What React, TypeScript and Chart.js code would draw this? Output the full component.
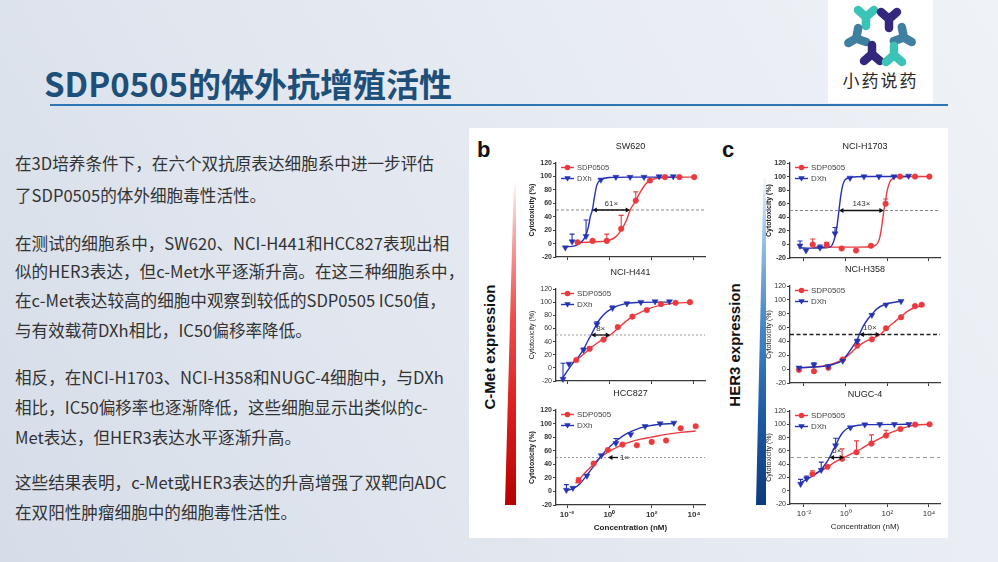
import React, { useEffect, useRef } from "react";
import { Chart, registerables } from "chart.js";

Chart.register(...registerables);

const RED = "#eb3a3f";
const BLUE = "#2432b3";
const AXIS = "#3a3a3a";
const SANS = "'Liberation Sans', Arial, Helvetica, sans-serif";
const CJK = "'Noto Sans CJK SC', 'Noto Sans', sans-serif";

// Concentrations are log10(nM); responses are % cytotoxicity.
// err = upper error bar length (0 = none). fit = fitted dose-response curve.

// ---- SW620 ----
const sw620DxhX = [-2.08, -1.76, -1.1, -0.4, 0.31, 0.98, 1.64, 2.35, 3.02];
const sw620DxhY = [-6, 3, 11, 95, 99, 99, 99, 100, 100];
const sw620DxhErr = [0, 11, 24, 0, 0, 0, 0, 0, 0];
const sw620DxhFitX = [-2.1, -1.6, -1.37, -1.14, -0.98, -0.9, -0.8, -0.71, -0.59, -0.4, 0.04, 1.0, 3.02];
const sw620DxhFitY = [-5, -3, 1, 10, 26, 40, 50, 68, 87, 95, 98.5, 99, 99];
const sw620SdpX = [-1.5, -0.79, -0.12, 0.56, 1.25, 1.92, 2.63, 3.31, 4.01];
const sw620SdpY = [2, 4, 4, 22, 64, 94, 99, 99, 99];
const sw620SdpErr = [0, 0, 10, 20, 13, 0, 0, 0, 0];
const sw620SdpFitX = [-1.55, -1.0, -0.4, 0.0, 0.3, 0.56, 0.8, 0.985, 1.25, 1.45, 1.7, 1.92, 2.3, 2.7, 4.01];
const sw620SdpFitY = [1.5, 2, 3, 5, 10, 20, 34, 50, 64, 76, 88, 94, 97.5, 98.5, 99];
const sw620Ic50 = [-0.8, 0.985];

// ---- NCI-H441 ----
const h441DxhX = [-2.19, -1.91, -1.22, -0.59, 0.15, 0.83, 1.49, 2.16, 2.84];
const h441DxhY = [-17, 6, 27, 66, 91, 98, 100, 101, 101];
const h441DxhErr = [24, 0, 3, 4, 3, 0, 0, 0, 0];
const h441DxhFitX = [-2.2, -1.95, -1.7, -1.45, -1.22, -1.0, -0.86, -0.72, -0.59, -0.45, -0.27, 0.15, 0.67, 1.3, 2.84];
const h441DxhFitY = [-15, -3, 8, 17, 28, 42, 50, 59, 67, 74, 81, 91, 97, 99.5, 100];
const h441SdpX = [-1.56, -0.93, -0.27, 0.4, 1.09, 1.77, 2.44, 3.13, 3.81];
const h441SdpY = [12, 29, 43, 62, 78, 88, 97, 99, 100];
const h441SdpErr = [0, 3, 0, 0, 0, 0, 0, 0, 0];
const h441SdpFitX = [-1.75, -1.56, -1.2, -0.93, -0.6, -0.27, 0.043, 0.4, 0.75, 1.09, 1.45, 1.77, 2.44, 3.13, 3.81];
const h441SdpFitY = [8, 12, 21, 29, 37, 44, 50, 60, 70, 78, 84, 89, 95.5, 98.5, 99.5];
const h441Ic50 = [-0.86, 0.043];

// ---- HCC827 ----
const hcc827DxhX = [-2.03, -1.72, -1.06, -0.38, 0.31, 1.01, 1.69, 2.4, 3.05];
const hcc827DxhY = [2, 5, 23, 53, 71, 84, 96, 100, 101];
const hcc827DxhErr = [8, 0, 0, 0, 7, 0, 0, 0, 0];
const hcc827DxhFitX = [-2.05, -1.72, -1.4, -1.06, -0.75, -0.44, -0.1, 0.31, 0.7, 1.01, 1.4, 1.69, 2.4, 3.05];
const hcc827DxhFitY = [1, 4, 11, 24, 37, 50, 62, 74, 83, 88, 93, 95.5, 99, 100];
const hcc827SdpX = [-1.45, -0.74, -0.07, 0.62, 1.3, 2.0, 2.68, 3.37, 4.08];
const hcc827SdpY = [16, 41, 61, 69, 68, 73, 75, 93, 96];
const hcc827SdpErr = [4, 0, 0, 0, 0, 0, 0, 0, 0];
const hcc827SdpFitX = [-1.6, -1.45, -1.1, -0.74, -0.44, -0.07, 0.3, 0.62, 1.0, 1.5, 2.0, 2.68, 3.37, 4.08];
const hcc827SdpFitY = [12, 17, 29, 40, 50, 58, 64, 69, 73, 77, 80, 84, 87, 89];
const hcc827Ic50 = [-0.44, -0.44];

// ---- NCI-H1703 ----
const h1703DxhX = [-2.19, -1.9, -1.23, -0.51, 0.21, 0.88, 1.6, 2.32, 3.02];
const h1703DxhY = [-2, -9, -5, 16, 98, 100, 100, 100, 101];
const h1703DxhErr = [7, 0, 4, 9, 0, 0, 0, 0, 0];
const h1703DxhFitX = [-2.25, -1.6, -1.0, -0.7, -0.58, -0.48, -0.4, -0.32, -0.24, -0.15, -0.03, 0.21, 1.0, 3.02];
const h1703DxhFitY = [-5, -5.5, -5, -3, 4, 15, 30, 50, 70, 86, 95, 98.5, 100, 100];
const h1703SdpX = [-1.58, -0.91, -0.19, 0.5, 1.22, 1.92, 2.61, 3.33, 4.02];
const h1703SdpY = [0, -1, -6, -9, -2, 60, 100, 100, 100];
const h1703SdpErr = [8, 4, 0, 0, 0, 7, 0, 0, 0];
const h1703SdpFitX = [-1.6, -0.5, 0.5, 1.2, 1.45, 1.6, 1.7, 1.77, 1.835, 1.9, 2.0, 2.12, 2.3, 2.61, 4.02];
const h1703SdpFitY = [-4, -4, -4, -3.5, -1, 6, 20, 35, 50, 62, 80, 92, 98, 100, 100];
const h1703Ic50 = [-0.32, 1.835];

// ---- NCI-H358 ----
const h358DxhX = [-2.24, -1.52, -0.83, -0.14, 0.56, 1.26, 1.94, 2.66];
const h358DxhY = [2, 6, 4, 12, 40, 78, 93, 98];
const h358DxhErr = [0, 3, 0, 0, 3, 0, 0, 0];
const h358DxhFitX = [-2.24, -1.5, -0.83, -0.4, -0.14, 0.1, 0.35, 0.56, 0.66, 0.85, 1.06, 1.26, 1.5, 1.94, 2.66];
const h358DxhFitY = [2, 3, 5, 9, 13, 22, 33, 43, 50, 62, 72, 79, 87, 94, 98];
const h358SdpX = [-2.24, -1.52, -0.83, -0.14, 0.56, 1.26, 1.94, 2.66, 3.33, 3.65];
const h358SdpY = [-1, -3, 2, 14, 34, 43, 59, 75, 91, 93];
const h358SdpErr = [0, 0, 0, 0, 3, 0, 0, 0, 0, 0];
const h358SdpFitX = [-2.24, -1.5, -0.83, -0.4, -0.14, 0.2, 0.56, 0.9, 1.26, 1.66, 1.94, 2.3, 2.66, 3.0, 3.33, 3.7];
const h358SdpFitY = [2, 3, 6, 10, 14, 22, 32, 39, 44, 50, 58, 67, 76, 84, 89, 92];
const h358Ic50 = [0.66, 1.66];

// ---- NUGC-4 ----
const nugcDxhX = [-2.16, -1.87, -1.17, -0.48, 0.23, 0.92, 1.64, 2.34, 3.04];
const nugcDxhY = [10, 18, 31, 68, 95, 99.5, 100, 100, 100];
const nugcDxhErr = [7, 4, 12, 11, 0, 0, 0, 0, 0];
const nugcDxhFitX = [-2.16, -1.87, -1.5, -1.17, -0.95, -0.77, -0.6, -0.48, -0.3, -0.1, 0.23, 0.6, 1.2, 3.04];
const nugcDxhFitY = [12, 17, 24, 32, 41, 50, 61, 68, 80, 89, 96, 98.5, 99.5, 100];
const nugcSdpX = [-1.59, -0.87, -0.17, 0.52, 1.24, 1.94, 2.63, 3.34, 4.03];
const nugcSdpY = [25, 36, 48, 58, 71, 83, 93, 99.5, 100];
const nugcSdpErr = [5, 0, 15, 17, 13, 8, 0, 0, 0];
const nugcSdpFitX = [-1.65, -1.3, -0.87, -0.45, -0.07, 0.25, 0.52, 0.9, 1.24, 1.6, 1.94, 2.3, 2.63, 3.0, 3.34, 4.03];
const nugcSdpFitY = [22, 28, 36, 44, 50, 55, 59, 66, 72, 78, 84, 89, 93, 96.5, 98.5, 100];
const nugcIc50 = [-0.77, -0.07];

const xTickExponents = [-2, 0, 2, 4];
const yTickStep = 20;
const seriesNames = ["SDP0505", "DXh"];

const SUP: Record<string, string> = { "-": "⁻", "0": "⁰", "1": "¹", "2": "²", "3": "³", "4": "⁴" };
const pow10Label = (v: number) =>
  "10" + String(Math.round(v)).split("").map((c) => SUP[c] || c).join("");

type Series = { x: number[]; y: number[]; err: number[]; fitX: number[]; fitY: number[] };
type Panel = {
  title: string;
  sdp: Series;
  dxh: Series;
  ic50: number[];
  fold: string;
  arrow: "double" | "left";
  ref: { color: string; width: number; dash: number[] };
  col: "left" | "right";
  plotTop: number;
  plotH: number;
  bottomRow: boolean;
  bold: boolean;
  legendSize: number;
};

const mk = (x: number[], y: number[], err: number[], fitX: number[], fitY: number[]): Series => ({ x, y, err, fitX, fitY });

const COLUMNS = {
  left: { plotLeft: 556, plotW: 149, yAxisW: 31, padRight: 10, xMin: -2.52, xMax: 4.52 },
  right: { plotLeft: 790, plotW: 150, yAxisW: 28, padRight: 8, xMin: -2.67, xMax: 4.53 },
};
const TITLE_H = 24;

const greyDash = { color: "#8a8a8a", width: 1, dash: [3, 2] };

const PANELS: Panel[] = [
  {
    title: "SW620",
    sdp: mk(sw620SdpX, sw620SdpY, sw620SdpErr, sw620SdpFitX, sw620SdpFitY),
    dxh: mk(sw620DxhX, sw620DxhY, sw620DxhErr, sw620DxhFitX, sw620DxhFitY),
    ic50: sw620Ic50, fold: "61×", arrow: "double", ref: greyDash,
    col: "left", plotTop: 163, plotH: 94, bottomRow: false, bold: true, legendSize: 7.5,
  },
  {
    title: "NCI-H441",
    sdp: mk(h441SdpX, h441SdpY, h441SdpErr, h441SdpFitX, h441SdpFitY),
    dxh: mk(h441DxhX, h441DxhY, h441DxhErr, h441DxhFitX, h441DxhFitY),
    ic50: h441Ic50, fold: "8×", arrow: "double", ref: { color: "#9a9a9a", width: 1, dash: [2, 2] },
    col: "left", plotTop: 289, plotH: 92, bottomRow: false, bold: false, legendSize: 8,
  },
  {
    title: "HCC827",
    sdp: mk(hcc827SdpX, hcc827SdpY, hcc827SdpErr, hcc827SdpFitX, hcc827SdpFitY),
    dxh: mk(hcc827DxhX, hcc827DxhY, hcc827DxhErr, hcc827DxhFitX, hcc827DxhFitY),
    ic50: hcc827Ic50, fold: "1×", arrow: "left", ref: { color: "#9a9a9a", width: 1, dash: [2, 2] },
    col: "left", plotTop: 410, plotH: 95, bottomRow: true, bold: true, legendSize: 8,
  },
  {
    title: "NCI-H1703",
    sdp: mk(h1703SdpX, h1703SdpY, h1703SdpErr, h1703SdpFitX, h1703SdpFitY),
    dxh: mk(h1703DxhX, h1703DxhY, h1703DxhErr, h1703DxhFitX, h1703DxhFitY),
    ic50: h1703Ic50, fold: "143×", arrow: "double", ref: greyDash,
    col: "right", plotTop: 163, plotH: 95, bottomRow: false, bold: true, legendSize: 8,
  },
  {
    title: "NCI-H358",
    sdp: mk(h358SdpX, h358SdpY, h358SdpErr, h358SdpFitX, h358SdpFitY),
    dxh: mk(h358DxhX, h358DxhY, h358DxhErr, h358DxhFitX, h358DxhFitY),
    ic50: h358Ic50, fold: "10×", arrow: "double", ref: { color: "#222", width: 1.6, dash: [4, 2.5] },
    col: "right", plotTop: 286, plotH: 97, bottomRow: false, bold: false, legendSize: 8,
  },
  {
    title: "NUGC-4",
    sdp: mk(nugcSdpX, nugcSdpY, nugcSdpErr, nugcSdpFitX, nugcSdpFitY),
    dxh: mk(nugcDxhX, nugcDxhY, nugcDxhErr, nugcDxhFitX, nugcDxhFitY),
    ic50: nugcIc50, fold: "5×", arrow: "double", ref: { color: "#999", width: 1, dash: [4, 3] },
    col: "right", plotTop: 411, plotH: 93, bottomRow: true, bold: false, legendSize: 8,
  },
];

function drawMarker(ctx: CanvasRenderingContext2D, kind: "circle" | "tri", x: number, y: number, color: string) {
  ctx.fillStyle = color;
  ctx.beginPath();
  if (kind === "circle") {
    ctx.arc(x, y, 2.8, 0, Math.PI * 2);
  } else {
    ctx.moveTo(x - 3.2, y - 2.3);
    ctx.lineTo(x + 3.2, y - 2.3);
    ctx.lineTo(x, y + 3);
    ctx.closePath();
  }
  ctx.fill();
}

function DoseChart({ p }: { p: Panel }) {
  const ref = useRef<HTMLCanvasElement>(null);
  const col = COLUMNS[p.col];
  const xAxisH = p.bottomRow ? 32 : 6;
  const width = col.yAxisW + col.plotW + col.padRight;
  const height = TITLE_H + p.plotH + xAxisH;
  const left = col.plotLeft - col.yAxisW;
  const top = p.plotTop - TITLE_H;

  useEffect(() => {
    const weight = p.bold ? "bold" : "normal";
    const pts = (s: Series) => s.x.map((x, i) => ({ x, y: s.y[i] }));
    const fit = (s: Series) => s.fitX.map((x, i) => ({ x, y: s.fitY[i] }));

    const overlay = {
      id: "doseOverlay",
      beforeDatasetsDraw(chart: any) {
        const { ctx, chartArea: a } = chart;
        const xs = chart.scales.x;
        const ys = chart.scales.y;
        ctx.save();
        const y50 = ys.getPixelForValue(50);
        ctx.strokeStyle = p.ref.color;
        ctx.lineWidth = p.ref.width;
        ctx.setLineDash(p.ref.dash);
        ctx.beginPath();
        ctx.moveTo(a.left, y50);
        ctx.lineTo(a.right, y50);
        ctx.stroke();
        ctx.setLineDash([]);
        const sets: [Series, string][] = [
          [p.sdp, RED],
          [p.dxh, BLUE],
        ];
        for (const [s, c] of sets) {
          ctx.strokeStyle = c;
          ctx.lineWidth = 1.1;
          s.err.forEach((e, i) => {
            if (!e) return;
            const px = xs.getPixelForValue(s.x[i]);
            const y0 = ys.getPixelForValue(s.y[i]);
            const y1 = ys.getPixelForValue(s.y[i] + e);
            ctx.beginPath();
            ctx.moveTo(px, y0);
            ctx.lineTo(px, y1);
            ctx.moveTo(px - 2.5, y1);
            ctx.lineTo(px + 2.5, y1);
            ctx.stroke();
          });
        }
        ctx.restore();
      },
      afterDatasetsDraw(chart: any) {
        const { ctx, chartArea: a } = chart;
        const xs = chart.scales.x;
        const ys = chart.scales.y;
        const y50 = ys.getPixelForValue(50);
        ctx.save();
        ctx.strokeStyle = "#111";
        ctx.fillStyle = "#111";
        ctx.lineWidth = 1.3;
        const head = (xt: number, dir: number) => {
          ctx.beginPath();
          ctx.moveTo(xt, y50);
          ctx.lineTo(xt - dir * 4.5, y50 - 2.6);
          ctx.lineTo(xt - dir * 4.5, y50 + 2.6);
          ctx.closePath();
          ctx.fill();
        };
        ctx.font = `8px ${SANS}`;
        ctx.textBaseline = "middle";
        if (p.arrow === "double") {
          const x1 = xs.getPixelForValue(p.ic50[0]);
          const x2 = xs.getPixelForValue(p.ic50[1]);
          ctx.beginPath();
          ctx.moveTo(x1 + 2, y50);
          ctx.lineTo(x2 - 2, y50);
          ctx.stroke();
          head(x1, -1);
          head(x2, 1);
          ctx.fillStyle = "#333";
          ctx.textAlign = "center";
          ctx.fillText(p.fold, (x1 + x2) / 2, y50 - 6.5);
        } else {
          const xi = xs.getPixelForValue(p.ic50[0]);
          const tip = xi + 8;
          const tail = xi + 18;
          ctx.beginPath();
          ctx.moveTo(tip + 2, y50);
          ctx.lineTo(tail, y50);
          ctx.stroke();
          head(tip, -1);
          ctx.fillStyle = "#333";
          ctx.textAlign = "left";
          ctx.fillText(p.fold, tail + 2, y50 + 0.5);
        }
        // in-plot legend
        const rows: [string, string, "circle" | "tri"][] = [
          [seriesNames[0], RED, "circle"],
          [seriesNames[1], BLUE, "tri"],
        ];
        ctx.font = `${p.legendSize}px ${SANS}`;
        ctx.textAlign = "left";
        rows.forEach(([label, c, kind], i) => {
          const y = a.top + 4.5 + i * 11;
          ctx.strokeStyle = c;
          ctx.lineWidth = 1.4;
          ctx.beginPath();
          ctx.moveTo(a.left + 5, y);
          ctx.lineTo(a.left + 18, y);
          ctx.stroke();
          drawMarker(ctx, kind, a.left + 11.5, y, c);
          ctx.fillStyle = "#444";
          ctx.fillText(label, a.left + 21, y + 0.5);
        });
        ctx.restore();
      },
    };

    const axisGrid = { display: true, drawOnChartArea: false, drawTicks: true, tickLength: 3, color: AXIS, lineWidth: 1 };
    const axisBorder = { display: true, color: AXIS, width: 1.3 };

    const chart = new Chart(ref.current as HTMLCanvasElement, {
      type: "line",
      data: {
        datasets: [
          {
            data: pts(p.dxh), showLine: false, pointStyle: "triangle", rotation: 180, pointRadius: 3.5,
            backgroundColor: BLUE, borderColor: BLUE, borderWidth: 0.5, clip: false,
          },
          {
            data: pts(p.sdp), showLine: false, pointStyle: "circle", pointRadius: 2.8,
            backgroundColor: RED, borderColor: RED, borderWidth: 0.5, clip: false,
          },
          {
            data: fit(p.dxh), borderColor: BLUE, borderWidth: 1.4, pointRadius: 0,
            cubicInterpolationMode: "monotone", fill: false,
          },
          {
            data: fit(p.sdp), borderColor: RED, borderWidth: 1.4, pointRadius: 0,
            cubicInterpolationMode: "monotone", fill: false,
          },
        ],
      } as any,
      options: {
        animation: false,
        responsive: false,
        events: [],
        layout: { padding: { left: 0, right: col.padRight, top: 0, bottom: 0 } },
        plugins: {
          legend: { display: false },
          tooltip: { enabled: false },
          title: {
            display: true, text: p.title, fullSize: false, color: "#222",
            font: { family: SANS, size: 9, lineHeight: 1.2, weight: "normal" },
            padding: { top: 2, bottom: 11.2 },
          },
        },
        scales: {
          x: {
            type: "linear", min: col.xMin, max: col.xMax,
            afterBuildTicks: (s: any) => { s.ticks = xTickExponents.map((value) => ({ value })); },
            afterFit: (s: any) => { s.height = xAxisH; },
            grid: axisGrid, border: axisBorder,
            ticks: {
              display: p.bottomRow, autoSkip: false, maxRotation: 0, padding: 2, color: "#333",
              font: { family: SANS, size: 8, weight },
              callback: (v: any) => pow10Label(Number(v)),
            },
            title: {
              display: p.bottomRow, text: "Concentration (nM)", color: "#222",
              font: { family: SANS, size: 8, weight, lineHeight: 1.2 },
              padding: { top: 0, bottom: 4 },
            },
          },
          y: {
            min: -20, max: 120,
            afterFit: (s: any) => { s.width = col.yAxisW; },
            grid: axisGrid, border: axisBorder,
            ticks: { stepSize: yTickStep, padding: 1, color: "#333", font: { family: SANS, size: 7, weight } },
            title: {
              display: true, text: "Cytotoxicity (%)", color: "#222",
              font: { family: SANS, size: 7, weight, lineHeight: 1.2 },
              padding: { top: 3, bottom: 0 },
            },
          },
        },
      } as any,
      plugins: [overlay] as any,
    });
    return () => chart.destroy();
  }, [p]);

  return (
    <canvas
      ref={ref}
      width={width}
      height={height}
      style={{ position: "absolute", left, top, width, height }}
    />
  );
}

const bodyLines: [string, number][] = [
  ["在3D培养条件下，在六个双抗原表达细胞系中进一步评估", 163],
  ["了SDP0505的体外细胞毒性活性。", 195],
  ["在测试的细胞系中，SW620、NCI-H441和HCC827表现出相", 243],
  ["似的HER3表达，但c-Met水平逐渐升高。在这三种细胞系中，", 271],
  ["在c-Met表达较高的细胞中观察到较低的SDP0505 IC50值，", 300],
  ["与有效载荷DXh相比，IC50偏移率降低。", 330],
  ["相反，在NCI-H1703、NCI-H358和NUGC-4细胞中，与DXh", 377],
  ["相比，IC50偏移率也逐渐降低，这些细胞显示出类似的c-", 407],
  ["Met表达，但HER3表达水平逐渐升高。", 437],
  ["这些结果表明，c-Met或HER3表达的升高增强了双靶向ADC", 482],
  ["在双阳性肿瘤细胞中的细胞毒性活性。", 512],
];

// Logo: six three-armed blocks arranged in a ring
const logoBlocks: [number, number, number, string][] = [
  [866, 16, 0, "#3cc3b7"],
  [889, 18, 0, "#34287e"],
  [857, 38, 60, "#3f7f9f"],
  [903, 37, -60, "#3f7f9f"],
  [872, 55, 180, "#34287e"],
  [894, 56, 180, "#3cc3b7"],
];

function Logo() {
  return (
    <div style={{ position: "absolute", left: 828, top: 0, width: 105, height: 103, background: "#fff" }}>
      <svg width={105} height={72} style={{ position: "absolute", left: 0, top: 0 }}>
        {logoBlocks.map(([cx, cy, rot, c], i) => (
          <g key={i} transform={`translate(${cx - 828},${cy}) rotate(${rot})`}>
            <path
              d="M0 1 L-8 -6 M0 1 L8 -6 M0 1 L0 10"
              stroke={c}
              strokeWidth={8.5}
              strokeLinecap="round"
              strokeLinejoin="round"
              fill="none"
            />
          </g>
        ))}
      </svg>
      <div
        style={{
          position: "absolute", left: 0, width: 105, top: 68, textAlign: "center",
          fontFamily: CJK, fontSize: 17, letterSpacing: 2, color: "#2a2a2a", lineHeight: "24px",
        }}
      >
        小药说药
      </div>
    </div>
  );
}

function RotatedLabel({ text, cx, cy }: { text: string; cx: number; cy: number }) {
  return (
    <div
      style={{
        position: "absolute", left: cx, top: cy, transform: "translate(-50%, -50%) rotate(-90deg)",
        whiteSpace: "nowrap", fontFamily: SANS, fontWeight: "bold", fontSize: 15, color: "#111", lineHeight: "18px",
      }}
    >
      {text}
    </div>
  );
}

export default function App() {
  return (
    <div
      style={{
        position: "fixed", left: 0, top: 0, width: 998, height: 562, overflow: "hidden",
        background: "linear-gradient(60deg, #d6dde8 0%, #e3e8f0 45%, #eff2f7 100%)",
      }}
    >
      <div
        style={{
          position: "absolute", left: 44, top: 61, fontFamily: CJK, fontWeight: "bold", fontSize: 33,
          lineHeight: "44px", color: "#1d4f78", whiteSpace: "nowrap",
        }}
      >
        SDP0505的体外抗增殖活性
      </div>
      <Logo />
      <div style={{ position: "absolute", left: 50, top: 104, width: 898, height: 2, background: "#2e75b6" }} />

      {bodyLines.map(([t, y], i) => (
        <div
          key={i}
          style={{
            position: "absolute", left: 15, top: y - 12, lineHeight: "24px", fontFamily: CJK,
            fontSize: 16.6, color: "#333", whiteSpace: "nowrap",
          }}
        >
          {t}
        </div>
      ))}

      <div style={{ position: "absolute", left: 469, top: 128, width: 479, height: 410, background: "#fff" }} />

      <div style={{ position: "absolute", left: 477, top: 139, fontFamily: SANS, fontWeight: "bold", fontSize: 22, lineHeight: "22px", color: "#111" }}>b</div>
      <div style={{ position: "absolute", left: 722, top: 139, fontFamily: SANS, fontWeight: "bold", fontSize: 22, lineHeight: "22px", color: "#111" }}>c</div>

      <div
        style={{
          position: "absolute", left: 505, top: 182, width: 11, height: 323,
          background: "linear-gradient(to bottom, rgba(255,235,235,0.3) 0%, #f7b0b0 14%, #ef5050 40%, #dc1f1f 70%, #b80000 100%)",
          clipPath: "polygon(80% 0, 100% 0, 100% 100%, 0 100%)",
        }}
      />
      <div
        style={{
          position: "absolute", left: 756, top: 178, width: 10, height: 327,
          background: "linear-gradient(to bottom, rgba(220,235,248,0.4) 0%, #a9cbec 14%, #4f8fcf 40%, #1f5ea8 70%, #0c3a7c 100%)",
          clipPath: "polygon(75% 0, 100% 0, 100% 100%, 0 100%)",
        }}
      />
      <RotatedLabel text="C-Met expression" cx={490} cy={347} />
      <RotatedLabel text="HER3 expression" cx={735} cy={345} />

      {PANELS.map((p) => (
        <DoseChart key={p.title} p={p} />
      ))}
    </div>
  );
}
